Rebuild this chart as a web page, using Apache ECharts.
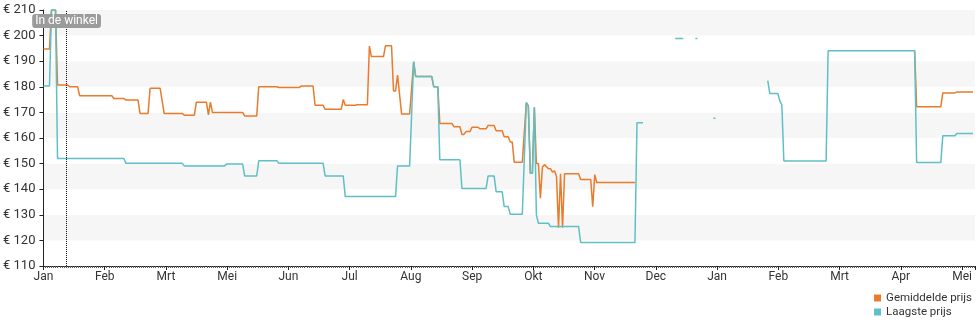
<!DOCTYPE html>
<html>
<head>
<meta charset="utf-8">
<script src="https://cdn.jsdelivr.net/npm/echarts@6/dist/echarts.min.js"></script>
<style>
  html, body { margin: 0; padding: 0; background: #fff; }
  #chart { width: 980px; height: 325px; }
</style>
</head>
<body>
<div id="chart"></div>
<script>
// Month labels placed every 30.4375 days along the time axis
const monthLabels = ['Jan', 'Feb', 'Mrt', 'Mei', 'Jun', 'Jul', 'Aug', 'Sep', 'Okt', 'Nov', 'Dec', 'Jan', 'Feb', 'Mrt', 'Apr', 'Mei'];
const daysPerMonth = 30.4375;
const lastDay = 463;

// Price scale (euro)
const priceMin = 110;
const priceMax = 210;
const priceStep = 10;

// Marker for the moment the product arrived in store (day index)
const inStoreDay = 11.5;
const inStoreLabel = 'In de winkel';

// Average price per day: [day, euro]
const avgPrice = [
  [0, 194.8], [3, 194.8], [4, 210], [6, 210], [7, 180.7], [12, 180.7], [13, 180], [17, 180],
  [18, 176.5], [34, 176.5], [35, 175.4], [40, 175.4], [41, 174.8], [47, 174.8], [48, 169.6],
  [52, 169.6], [53, 179.4], [58, 179.4], [60, 169.6], [69, 169.6], [70, 168.9], [75, 168.9],
  [76, 174], [81, 174], [82, 169], [83, 174], [84, 170], [99, 170], [100, 168.6], [106, 168.6],
  [107, 180], [116, 180], [117, 179.7], [127, 179.7], [128, 180.3], [134, 180.3], [135, 172.8],
  [139, 172.8], [140, 171.2], [148, 171.2], [149, 175], [150, 172.8], [155, 172.8], [156, 173],
  [161, 173], [162, 195.9], [163, 191.8], [169, 191.8], [170, 196], [173, 196], [174, 178.4],
  [175, 178.4], [176, 184.6], [178, 169.4], [182, 169.4], [184, 189.8], [185, 184], [193, 184],
  [194, 180], [196, 180], [197, 165.7], [203, 165.7], [204, 164.4], [207, 164.4], [208, 161.4],
  [209, 161.4], [210, 162.5], [212, 162.5], [213, 164.2], [216, 164.2], [217, 163.6], [220, 163.6],
  [221, 164.9], [224, 164.9], [225, 162.8], [228, 162.8], [229, 160.5], [231, 160.5], [232, 158.4],
  [233, 158.4], [234, 150.5], [238, 150.5], [240, 173.8], [241, 172.5], [242, 146.2], [243, 146.2],
  [244, 172], [245, 150], [246, 150], [247, 136.5], [248, 148.7], [249, 149.6], [251, 148],
  [252, 148], [253, 146.7], [254, 147.2], [255, 145], [256, 125], [257, 146], [258, 125],
  [259, 146], [266, 146], [267, 143.8], [272, 143.8], [273, 133.2], [274, 145.7], [275, 142.6],
  [294, 142.6], [295, '-'],
  [433, 194.1], [434, 172.2], [446, 172.2], [447, 177.6], [453, 177.6], [454, 178], [462, 178]
];

// Lowest price per day: [day, euro]
const lowPrice = [
  [0, 180.3], [3, 180.3], [4, 210], [6, 210], [7, 152], [40, 152], [41, 150.1], [69, 150.1],
  [70, 149.1], [90, 149.1], [91, 149.8], [99, 149.8], [100, 145.2], [106, 145.2], [107, 151.1],
  [116, 151.1], [117, 150.1], [139, 150.1], [140, 145.2], [149, 145.2], [150, 137.1], [175, 137.1],
  [176, 149.1], [182, 149.1], [184, 189.8], [185, 184], [193, 184], [194, 180], [196, 180],
  [197, 151.5], [207, 151.5], [208, 140.3], [220, 140.3], [221, 145.2], [224, 145.2], [225, 139],
  [228, 139], [229, 133.2], [231, 133.2], [232, 130.2], [238, 130.2], [240, 173.8], [241, 172.5],
  [242, 146.2], [243, 146.2], [244, 172], [245, 130], [246, 126.7], [251, 126.7], [252, 125.4],
  [266, 125.4], [267, 119.2], [294, 119.2], [295, 166], [298, 166], [299, '-'],
  [314, 198.9], [318, 198.9], [319, '-'],
  [324, 198.9], [325, 198.9], [326, '-'],
  [333, 167.7], [334, 167.7], [335, '-'],
  [360, 182.4], [361, 177.4], [365, 177.4], [366, 174.5], [367, 172.9], [368, 151], [389, 151],
  [390, 194.1], [433, 194.1], [434, 150.4], [446, 150.4], [447, 160.9], [453, 160.9], [454, 161.8],
  [462, 161.8]
];

const seriesNames = ['Gemiddelde prijs', 'Laagste prijs'];
const seriesColors = ['#e97b2b', '#5ec0c6'];

const chart = echarts.init(document.getElementById('chart'), null, { renderer: 'canvas' });

const axisColor = '#222';
const textColor = '#333';
const fontFamily = 'Roboto, "Noto Sans", sans-serif';

chart.setOption({
  animation: false,
  backgroundColor: '#fff',
  textStyle: { fontFamily: fontFamily },
  grid: { left: 41, right: 5, top: 10, bottom: 59, containLabel: false },
  legend: {
    orient: 'vertical',
    right: 8,
    top: 291,
    padding: 0,
    icon: 'rect',
    itemWidth: 7,
    itemHeight: 7,
    itemGap: 0,
    textStyle: { fontSize: 11.5, color: textColor, fontFamily: fontFamily, lineHeight: 14 },
    data: seriesNames
  },
  xAxis: {
    type: 'value',
    min: 0,
    max: lastDay,
    interval: daysPerMonth,
    axisLine: { show: true, lineStyle: { color: axisColor, width: 1 } },
    axisTick: { show: true, length: 4, lineStyle: { color: axisColor } },
    minorTick: { show: true, splitNumber: 30, length: 2, lineStyle: { color: '#555' } },
    splitLine: { show: false },
    axisLabel: {
      fontSize: 12,
      color: textColor,
      margin: 5,
      formatter: function (v) {
        const idx = v / daysPerMonth;
        const r = Math.round(idx);
        if (Math.abs(idx - r) > 0.01) return '';
        return monthLabels[r] || '';
      }
    }
  },
  yAxis: {
    type: 'value',
    min: priceMin,
    max: priceMax,
    interval: priceStep,
    axisLine: { show: true, lineStyle: { color: axisColor, width: 1 } },
    axisTick: { show: true, length: 4, lineStyle: { color: axisColor } },
    splitLine: { show: false },
    splitArea: { show: true, areaStyle: { color: ['#ffffff', '#f6f6f6'] } },
    axisLabel: {
      fontSize: 13,
      color: textColor,
      margin: 8,
      formatter: function (v) { return '\u20ac ' + v; }
    }
  },
  series: [
    {
      name: seriesNames[0],
      type: 'line',
      data: avgPrice,
      showSymbol: false,
      symbol: 'none',
      connectNulls: false,
      color: seriesColors[0],
      lineStyle: { width: 1.5, color: seriesColors[0] },
      markLine: {
        silent: true,
        symbol: ['none', 'none'],
        lineStyle: { type: 'dotted', color: '#111', width: 1 },
        label: {
          show: true,
          position: 'end',
          distance: -18,
          formatter: inStoreLabel,
          color: '#fff',
          fontSize: 12,
          backgroundColor: '#9b9b9b',
          borderRadius: 3,
          padding: [1, 3]
        },
        data: [{ xAxis: inStoreDay }]
      }
    },
    {
      name: seriesNames[1],
      type: 'line',
      data: lowPrice,
      showSymbol: false,
      symbol: 'none',
      connectNulls: false,
      color: seriesColors[1],
      lineStyle: { width: 1.5, color: seriesColors[1] }
    }
  ]
});
</script>
</body>
</html>
